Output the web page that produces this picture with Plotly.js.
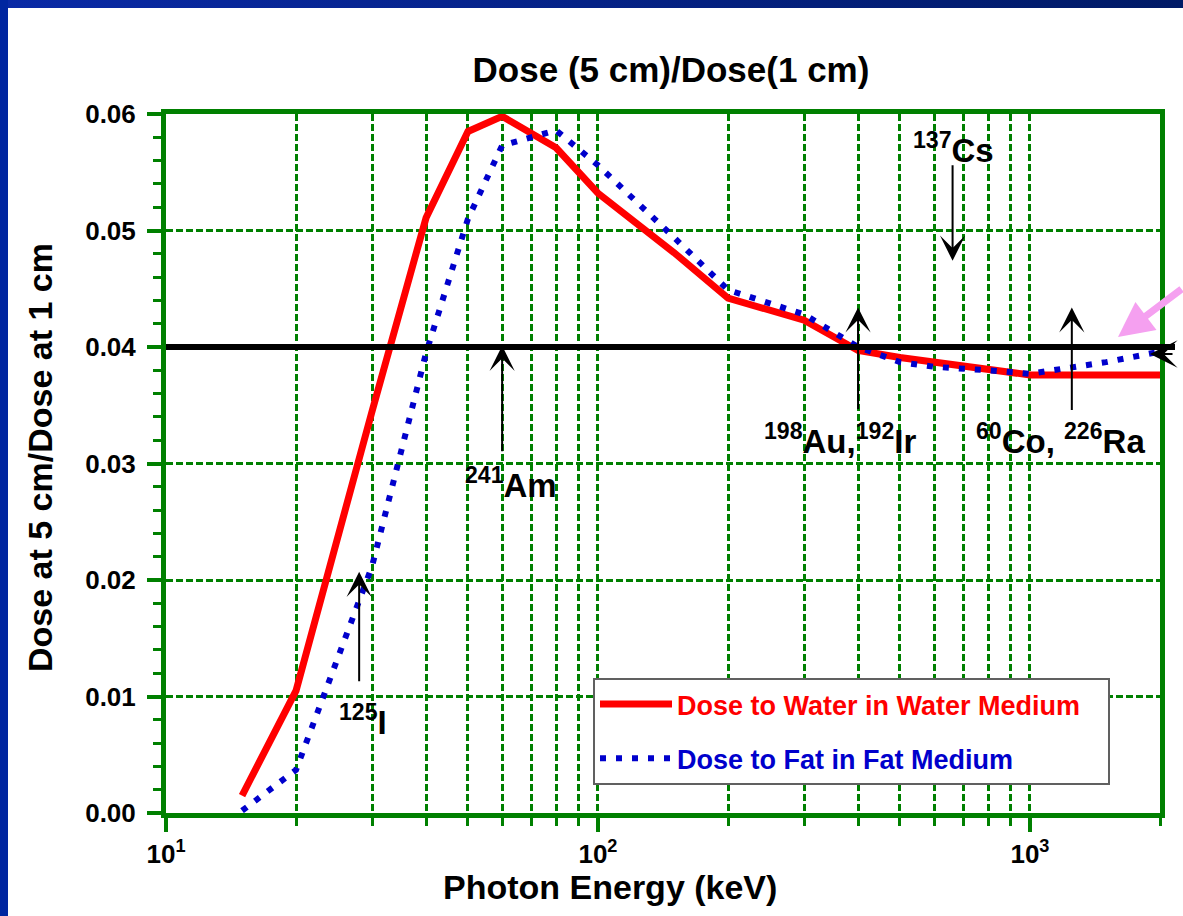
<!DOCTYPE html>
<html>
<head>
<meta charset="utf-8">
<script src="https://cdn.plot.ly/plotly-3.0.1.min.js"></script>
<style>
  html, body { margin: 0; padding: 0; background: #ffffff; }
  #wrap { position: relative; width: 1183px; height: 916px; overflow: hidden; background: #ffffff; }
  #topbar { position: absolute; left: 0; top: 0; width: 1183px; height: 8px; background: linear-gradient(to right, #0a2aa6, #001a66); z-index: 5; }
  #leftbar { position: absolute; left: 0; top: 0; width: 8px; height: 916px; background: #0026a0; z-index: 5; }
  #chart { position: absolute; left: 0; top: 0; width: 1183px; height: 916px; }
</style>
</head>
<body>
<div id="wrap">
  <div id="chart"></div>
  <div id="topbar"></div>
  <div id="leftbar"></div>
</div>
<script>
// ---- data ----
const energyWater = [15, 20, 30, 40, 50, 60, 80, 100, 150, 200, 300, 400, 500, 600, 800, 1000, 1250, 1500, 2000];
const doseWater   = [0.0015, 0.0105, 0.0345, 0.0511, 0.0585, 0.0598, 0.0571, 0.0532, 0.0481, 0.0442, 0.0423, 0.0397, 0.0391, 0.0387, 0.0382, 0.0376, 0.0376, 0.0376, 0.0376];

const energyFat = [15, 20, 30, 40, 50, 60, 80, 100, 150, 200, 300, 400, 500, 600, 800, 1000, 1500, 2000];
const doseFat   = [0.0002, 0.0037, 0.0212, 0.0395, 0.0510, 0.0573, 0.0586, 0.0556, 0.0494, 0.0449, 0.0428, 0.0400, 0.0387, 0.0383, 0.0380, 0.0377, 0.0387, 0.0396];

const referenceLevel = 0.04;

const seriesNames = ["Dose to Water in Water Medium", "Dose to Fat in Fat Medium"];

// nuclide markers: energy (keV), arrow tip value, arrow direction
const nuclideEnergy = [28, 60, 400, 662, 1250];
const nuclideTip    = [0.0207, 0.0401, 0.0434, 0.0474, 0.0434];
const nuclideDir    = [1, 1, 1, -1, 1];  // 1 = arrow pointing up, -1 = pointing down

const xTickVals = [10, 100, 1000];
const xTickText = ["10<sup>1</sup>", "10<sup>2</sup>", "10<sup>3</sup>"];

// ---- layout helpers ----
const W = 1183, H = 916;
const L = 166, R = 23, T = 114, B = 103;
const PW = W - L - R, PH = H - T - B;
const px = x => (x - L) / PW;          // page px -> paper x
const py = y => (H - B - y) / PH;      // page px -> paper y

const GREEN = "#008000";
const FONT = "Liberation Sans, Arial, Helvetica, sans-serif";

const minorX = [];
[10, 100, 1000].forEach(d => { for (let k = 2; k <= 9; k++) { if (d * k <= 2000) minorX.push(d * k); } });

const traces = [
  {
    x: energyWater, y: doseWater, type: "scatter", mode: "lines",
    name: '<span style="color:#ff0000">' + seriesNames[0] + '</span>&nbsp;&nbsp;&nbsp;',
    line: { color: "#ff0000", width: 7 },
    legendgroup: "a"
  },
  {
    x: energyFat, y: doseFat, type: "scatter", mode: "lines",
    name: '<span style="color:#0000cc">' + seriesNames[1] + '</span>',
    line: { color: "#0000cc", width: 6, dash: "6px,10px" },
    legendgroup: "b"
  }
];

const annotations = [];
// nuclide arrows
const tailLen = [111, 107, 103, 97, 104];
for (let i = 0; i < nuclideEnergy.length; i++) {
  annotations.push({
    x: Math.log10(nuclideEnergy[i]), y: nuclideTip[i], xref: "x", yref: "y",
    ax: 0, ay: tailLen[i] * nuclideDir[i], axref: "pixel", ayref: "pixel",
    text: "", showarrow: true, arrowhead: 3, arrowsize: 2.1, arrowwidth: 2, arrowcolor: "#000000"
  });
}
// nuclide labels
const labelFont = { family: FONT, size: 33, color: "#000000", weight: "bold" };
const labels = [
  { t: "<sup>125</sup>I", x: 363, y: 720 },
  { t: "<sup>241</sup>Am", x: 511, y: 483 },
  { t: "<sup>198</sup>Au,<sup>192</sup>Ir", x: 840, y: 439 },
  { t: "<sup>60</sup>Co, <sup>226</sup>Ra", x: 1060, y: 439 },
  { t: "<sup>137</sup>Cs", x: 953, y: 148 }
];
labels.forEach(l => annotations.push({
  x: px(l.x), y: py(l.y), xref: "paper", yref: "paper", xanchor: "center", yanchor: "middle",
  text: l.t, showarrow: false, font: labelFont
}));
// left-pointing arrowhead at the right end of the reference line
annotations.push({
  x: px(1150), y: py(354), xref: "paper", yref: "paper",
  ax: 24, ay: 0, text: "", showarrow: true, arrowhead: 3, arrowsize: 2.3, arrowwidth: 2, arrowcolor: "#000000"
});
// pink arrow
annotations.push({
  x: px(1118), y: py(337), xref: "paper", yref: "paper",
  ax: 84, ay: -49, text: "", showarrow: true, arrowhead: 2, arrowsize: 1.0, arrowwidth: 7, arrowcolor: "#f5a0f0"
});
// axis titles
annotations.push({
  x: px(610), y: py(887), xref: "paper", yref: "paper", xanchor: "center", yanchor: "middle",
  text: "Photon Energy (keV)", showarrow: false, font: { family: FONT, size: 34, color: "#000000", weight: "bold" }
});
annotations.push({
  x: px(40), y: py(458), xref: "paper", yref: "paper", xanchor: "center", yanchor: "middle",
  text: "Dose at 5 cm/Dose at 1 cm", textangle: -90, showarrow: false,
  font: { family: FONT, size: 34, color: "#000000", weight: "bold" }
});

const layout = {
  width: W, height: H,
  margin: { l: L, r: R, t: T, b: B, pad: 0 },
  paper_bgcolor: "rgba(0,0,0,0)",
  plot_bgcolor: "#ffffff",
  showlegend: true,
  title: {
    text: "Dose (5 cm)/Dose(1 cm)",
    x: px(671), xref: "paper", xanchor: "center",
    y: 1 - 70 / H, yref: "container", yanchor: "middle",
    font: { family: FONT, size: 35, color: "#000000", weight: "bold" }
  },
  xaxis: {
    type: "log", range: [1, Math.log10(2000)],
    tickmode: "array", tickvals: xTickVals, ticktext: xTickText,
    ticks: "outside", ticklen: 14, tickwidth: 4, tickcolor: GREEN,
    tickfont: { family: FONT, size: 26, color: "#000000", weight: "bold" },
    showline: true, linecolor: GREEN, linewidth: 5, mirror: true,
    showgrid: true, gridcolor: GREEN, gridwidth: 3, griddash: "7px,3px",
    minor: { tickmode: "array", tickvals: minorX, ticks: "outside", ticklen: 8, tickwidth: 3, tickcolor: GREEN,
             showgrid: true, gridcolor: GREEN, gridwidth: 3, griddash: "7px,3px" },
    zeroline: false, fixedrange: true
  },
  yaxis: {
    range: [0, 0.06], dtick: 0.01, tick0: 0, tickformat: ".2f",
    ticks: "outside", ticklen: 14, tickwidth: 4, tickcolor: GREEN,
    tickfont: { family: FONT, size: 26, color: "#000000", weight: "bold" },
    ticklabelstandoff: 6,
    showline: true, linecolor: GREEN, linewidth: 5, mirror: true,
    showgrid: true, gridcolor: GREEN, gridwidth: 3, griddash: "7px,3px",
    minor: { dtick: 0.002, ticks: "outside", ticklen: 8, tickwidth: 3, tickcolor: GREEN, showgrid: false },
    zeroline: false, fixedrange: true
  },
  legend: {
    x: px(593), y: py(678), xanchor: "left", yanchor: "top",
    bgcolor: "#ffffff", bordercolor: "#606060", borderwidth: 2,
    font: { family: FONT, size: 27, weight: "bold" },
    itemwidth: 72, tracegroupgap: 16, traceorder: "grouped"
  },
  shapes: [
    { type: "line", xref: "paper", yref: "y", x0: 0, x1: px(1175), y0: referenceLevel, y1: referenceLevel,
      line: { color: "#000000", width: 6 }, layer: "above" }
  ],
  annotations: annotations
};

Plotly.newPlot("chart", traces, layout, { displayModeBar: false, staticPlot: true });
</script>
</body>
</html>
